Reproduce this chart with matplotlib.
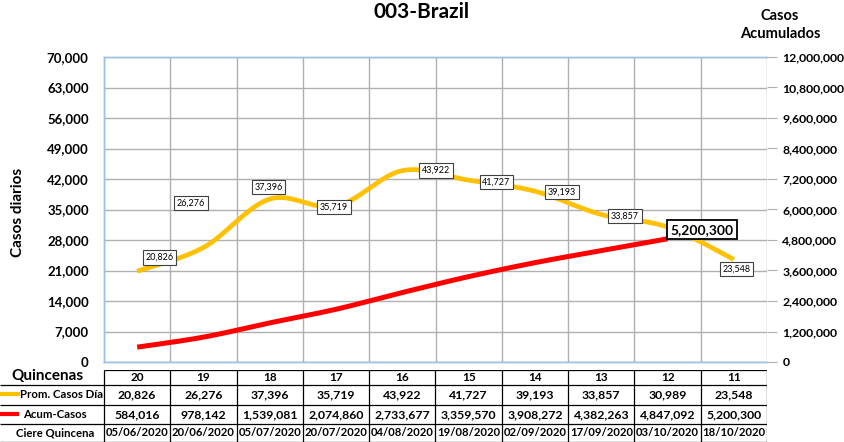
import numpy as np
import matplotlib.pyplot as plt

plt.rcParams['font.family'] = ['Lato', 'DejaVu Sans']

quincenas = ['20', '19', '18', '17', '16', '15', '14', '13', '12', '11']
prom_casos = [20826, 26276, 37396, 35719, 43922, 41727, 39193, 33857, 30989, 23548]
acum_casos = [584016, 978142, 1539081, 2074860, 2733677, 3359570, 3908272, 4382263, 4847092, 5200300]
cierre = ['05/06/2020', '20/06/2020', '05/07/2020', '20/07/2020', '04/08/2020',
          '19/08/2020', '02/09/2020', '17/09/2020', '03/10/2020', '18/10/2020']

YELLOW = '#FFC000'
RED = '#FF0000'
GRID = '#B0B0B0'
SPINE = '#9DC3E6'

W, H = 844, 442


def smooth(x, y, n=24):
    # Catmull-Rom, like Excel's "smoothed line"
    x = np.asarray(x, float)
    y = np.asarray(y, float)
    px = np.concatenate([[x[0]], x, [x[-1]]])
    py = np.concatenate([[y[0]], y, [y[-1]]])
    xs, ys = [], []
    for i in range(1, len(px) - 2):
        t = np.linspace(0, 1, n)
        for arr, out in ((px, xs), (py, ys)):
            p0, p1, p2, p3 = arr[i - 1], arr[i], arr[i + 1], arr[i + 2]
            out.extend(0.5 * ((2 * p1) + (-p0 + p2) * t +
                              (2 * p0 - 5 * p1 + 4 * p2 - p3) * t ** 2 +
                              (-p0 + 3 * p1 - 3 * p2 + p3) * t ** 3))
    return np.array(xs), np.array(ys)


fig = plt.figure(figsize=(W / 100, H / 100), dpi=100)
ax = fig.add_axes([104 / W, 1 - 362 / H, 663 / W, 305 / H])
ax2 = ax.twinx()

x = np.arange(len(quincenas))
ax.set_xlim(-0.5, len(x) - 0.5)
ax.set_ylim(0, 70000)
ax.set_yticks(np.arange(0, 70001, 7000))
ax.set_yticklabels([f'{v:,}' for v in range(0, 70001, 7000)], fontsize=9.5, fontweight='bold')
ax2.set_ylim(0, 12000000)
ax2.set_yticks(np.arange(0, 12000001, 1200000))
ax2.set_yticklabels([f'{v:,}' for v in range(0, 12000001, 1200000)], fontsize=8.8, fontweight='bold')

ax.set_xticks(np.arange(-0.5, len(x), 1), minor=False)
ax.set_xticklabels([])
ax.tick_params(axis='x', length=0)
ax.tick_params(axis='y', length=0, pad=11)
ax2.tick_params(axis='y', length=7, color=GRID, pad=4)
ax.grid(True, color=GRID, linewidth=1)
ax.set_axisbelow(True)
for a in (ax, ax2):
    for s in a.spines.values():
        s.set_color(SPINE)
        s.set_linewidth(1)
    a.spines['right'].set_visible(False)

# acumulados (right axis)
sx, sy = smooth(x[:-1], acum_casos[:-1])
ax2.plot(sx, sy, color=RED, linewidth=3.6, solid_capstyle='butt', zorder=3)
ax2.annotate(f'{acum_casos[-1]:,}', (x[-2], acum_casos[-2]), xytext=(24.5, 6.5),
             textcoords='offset points', ha='center', va='center', fontsize=10,
             fontweight='bold', zorder=6,
             bbox=dict(boxstyle='square,pad=0.25', fc='white', ec='black', lw=1.3))

# promedio diario (left axis) drawn in ax2 space
sx, sy = smooth(x, prom_casos)
ax2.plot(sx, sy / 70000 * 12000000, color=YELLOW, linewidth=3.4, solid_capstyle='butt', zorder=4)

offsets = [(16, 10), (-9, 32), (-1, 8.5), (-1.5, -0.5), (24, 0), (20, -1.5),
           (19.5, -0.5), (17, -1), None, (2, -7)]
for xi, v, off in zip(x, prom_casos, offsets):
    if off is None:
        continue
    ax2.annotate(f'{v:,}', (xi, v / 70000 * 12000000), xytext=off,
                 textcoords='offset points', ha='center', va='center', fontsize=6.5,
                 zorder=5,
                 bbox=dict(boxstyle='square,pad=0.3', fc='white', ec='#404040', lw=0.8))

fig.text(422 / W, 1 - 12 / H, '003-Brazil', ha='center', va='center', fontsize=15, fontweight='bold')
fig.text(18 / W, 1 - 212 / H, 'Casos diarios', rotation=90, ha='center', va='center',
         fontsize=11, fontweight='bold')
fig.text(780 / W, 1 - 25 / H, 'Casos\nAcumulados', ha='center', va='center',
         fontsize=10.5, fontweight='bold', linespacing=1.35)

# table under the chart
tax = fig.add_axes([0, 0, 767 / W, 72 / H])
tax.set_xlim(-0.5 - 104 / 66.3, len(x) - 0.5)
tax.set_ylim(72, 0)
tax.axis('off')
rows = [0, 15, 35, 54, 72]
left = -0.5 - 104 / 66.3
tax.hlines(rows[0], -0.5, len(x) - 0.5, color='black', lw=0.9)
for r in rows[1:]:
    tax.hlines(r, left, len(x) - 0.5, color='black', lw=0.9)
tax.vlines(np.arange(-0.5, len(x), 1), rows[0], rows[-1], color='black', lw=0.9)

mids = [(rows[k] + rows[k + 1]) / 2 for k in range(4)]
for i in x:
    tax.text(i, mids[0], quincenas[i], ha='center', va='center', fontsize=8.5, fontweight='bold')
    tax.text(i, mids[1], f'{prom_casos[i]:,}', ha='center', va='center', fontsize=8.8, fontweight='bold')
    tax.text(i, mids[2], f'{acum_casos[i]:,}', ha='center', va='center', fontsize=8.8, fontweight='bold')
    tax.text(i, mids[3], cierre[i], ha='center', va='center', fontsize=8.1, fontweight='bold')

fig.text(11 / W, 1 - 376 / H, 'Quincenas', ha='left', va='center', fontsize=11, fontweight='bold')
fig.lines.append(plt.Line2D([0, 18 / W], [1 - 394 / H] * 2, color=YELLOW, lw=3, transform=fig.transFigure))
fig.text(20 / W, 1 - 394 / H, 'Prom. Casos Día', ha='left', va='center', fontsize=8.2, fontweight='bold')
fig.lines.append(plt.Line2D([0, 17 / W], [1 - 414 / H] * 2, color=RED, lw=3, transform=fig.transFigure))
fig.text(23 / W, 1 - 414 / H, 'Acum-Casos', ha='left', va='center', fontsize=8.2, fontweight='bold')
fig.text(55 / W, 1 - 433 / H, 'Ciere Quincena', ha='center', va='center', fontsize=8.2, fontweight='bold')

fig.savefig('out.png', dpi=100)
